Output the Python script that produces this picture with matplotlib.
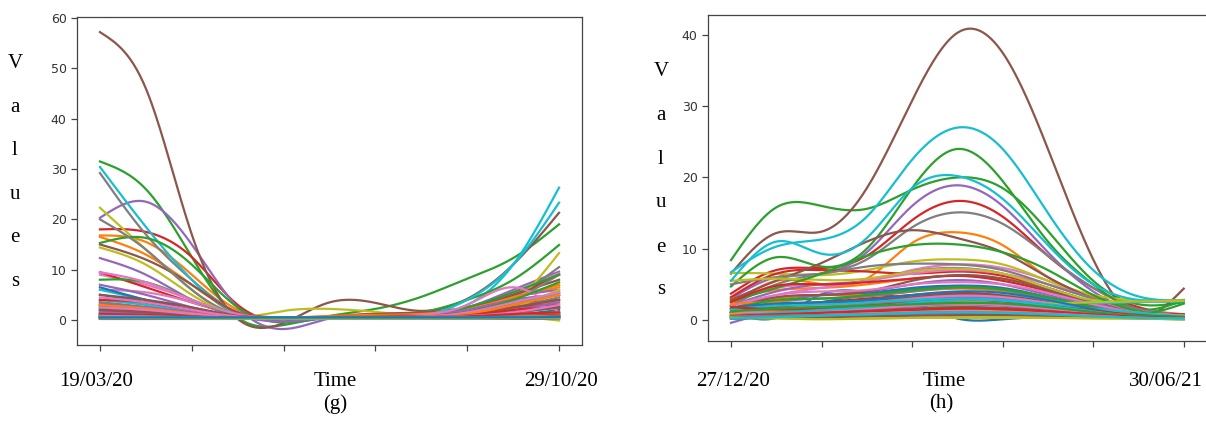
import numpy as np
import matplotlib
matplotlib.use("Agg")
import matplotlib.pyplot as plt

# knot positions on the time axis (tick units, 6 ticks from start to end date)
KNOT_X = [0.0, 0.5, 1.0, 1.5, 2.0, 2.5, 3.0, 3.5, 4.0, 4.5, 5.0]

# panel (g): 19/03/20 - 29/10/20, one row per series, tab10 cycle order
SERIES_G = [
    # cycle 1
    [3.5, 2.5, 1.2, 0.4, 0.3, 0.3, 0.3, 0.4, 0.5, 0.8, 1.5],
    [16.8, 15.5, 9.0, 2.0, 0.2, 0.4, 0.8, 1.0, 2.0, 4.5, 7.0],
    [31.5, 26.0, 12.5, 0.5, -1.0, 0.8, 2.2, 4.6, 8.2, 12.3, 19.0],
    [18.0, 17.5, 12.5, 3.0, -0.3, 0.6, 1.2, 1.4, 2.5, 5.0, 9.0],
    [20.3, 23.5, 15.0, 2.5, -1.8, 0.3, 0.8, 1.0, 2.5, 6.0, 9.6],
    [57.2, 46.0, 17.0, 0.2, -0.6, 3.5, 3.4, 1.8, 4.2, 11.0, 21.3],
    [9.0, 7.0, 4.0, 1.0, 0.3, 0.5, 0.6, 1.0, 2.5, 5.5, 9.3],
    [29.2, 17.0, 8.0, 1.5, 0.3, 0.4, 0.5, 0.6, 1.5, 4.5, 10.5],
    [22.3, 14.0, 6.0, 1.0, 1.8, 2.2, 1.6, 0.8, 1.0, 3.5, 13.3],
    [30.4, 18.5, 8.0, 1.0, 0.2, 0.4, 0.5, 0.8, 3.0, 11.0, 26.3],
    # cycle 2
    [5.0, 3.5, 1.5, 0.5, 0.3, 0.3, 0.4, 0.5, 0.6, 1.0, 2.0],
    [16.5, 13.0, 7.0, 1.5, 0.4, 0.5, 0.8, 1.2, 2.5, 4.5, 6.5],
    [15.3, 16.3, 11.0, 2.5, -0.5, 0.5, 0.8, 1.5, 4.0, 8.0, 14.9],
    [9.5, 6.5, 3.5, 1.2, 0.5, 0.7, 0.9, 0.9, 1.8, 3.5, 5.0],
    [12.3, 9.0, 4.0, 0.8, -0.3, 0.5, 0.7, 0.8, 2.0, 4.5, 6.0],
    [15.0, 12.0, 7.0, 1.5, 0.3, 0.6, 1.2, 1.5, 2.5, 5.0, 8.0],
    [6.0, 5.5, 3.5, 1.0, 0.3, 0.5, 0.5, 0.8, 1.5, 3.0, 5.0],
    [20.0, 14.0, 6.0, 1.0, 0.3, 0.4, 0.5, 0.7, 1.5, 4.0, 9.0],
    [14.4, 11.0, 5.0, 1.0, 0.3, 0.4, 0.5, 0.7, 1.2, 2.5, 4.0],
    [6.0, 4.0, 2.0, 0.5, 0.3, 0.5, 0.6, 0.8, 4.0, 11.0, 23.3],
    # cycle 3
    [6.5, 4.0, 2.0, 0.6, 0.3, 0.3, 0.4, 0.4, 0.5, 0.8, 1.2],
    [4.0, 3.0, 1.5, 0.5, 0.4, 0.8, 1.0, 1.2, 2.2, 4.5, 7.0],
    [8.0, 7.5, 4.0, 1.0, 0.3, 0.5, 0.6, 0.8, 2.5, 5.5, 9.0],
    [3.0, 2.5, 1.5, 0.6, 0.5, 0.6, 0.8, 0.9, 1.5, 3.0, 4.0],
    [7.0, 5.0, 2.5, 0.8, 0.3, 0.4, 0.5, 0.8, 2.0, 4.0, 5.0],
    [5.0, 4.0, 2.5, 0.8, 0.3, 0.5, 0.6, 0.8, 1.5, 3.0, 5.5],
    [9.5, 7.5, 4.0, 1.2, 0.3, 0.5, 0.6, 1.0, 3.0, 6.5, 1.5],
    [3.5, 2.5, 1.5, 0.6, 0.3, 0.4, 0.5, 0.6, 1.0, 2.5, 4.5],
    [2.5, 2.0, 1.0, 0.4, 0.3, 0.4, 0.5, 0.5, 0.8, 2.5, 6.0],
    [4.0, 3.0, 1.5, 0.5, 0.3, 0.4, 0.5, 0.6, 1.2, 3.0, 5.5],
    # cycle 4
    [2.5, 1.8, 1.0, 0.4, 0.3, 0.3, 0.3, 0.4, 0.5, 0.6, 0.9],
    [2.0, 1.6, 1.0, 0.5, 0.4, 0.6, 0.8, 0.8, 1.2, 2.5, 3.5],
    [2.5, 2.0, 1.2, 0.5, 0.3, 0.4, 0.5, 0.6, 1.5, 4.0, 7.5],
    [4.0, 3.5, 2.0, 0.8, 0.4, 0.5, 0.6, 0.7, 1.2, 2.5, 3.0],
    [3.0, 2.5, 1.5, 0.6, 0.3, 0.4, 0.5, 0.6, 1.0, 2.0, 3.5],
    [3.0, 2.2, 1.2, 0.5, 0.3, 0.5, 0.6, 0.7, 1.2, 2.5, 4.0],
    [4.5, 3.5, 2.0, 0.7, 0.3, 0.4, 0.5, 0.7, 1.5, 3.5, 5.5],
    [1.5, 1.2, 0.8, 0.4, 0.3, 0.3, 0.4, 0.5, 0.8, 1.5, 2.5],
    [1.0, 0.8, 0.5, 0.3, 0.3, 0.3, 0.4, 0.4, 0.5, 0.7, 1.0],
    [2.0, 1.6, 1.0, 0.4, 0.3, 0.3, 0.4, 0.5, 0.8, 1.5, 2.5],
    # cycle 5
    [1.5, 1.1, 0.7, 0.4, 0.3, 0.3, 0.3, 0.3, 0.4, 0.5, 0.7],
    [3.0, 2.3, 1.3, 0.5, 0.3, 0.4, 0.5, 0.6, 1.2, 3.0, 5.0],
    [1.2, 1.0, 0.7, 0.4, 0.3, 0.3, 0.4, 0.4, 0.6, 1.0, 1.5],
    [2.0, 1.6, 1.0, 0.5, 0.4, 0.5, 0.6, 0.6, 0.9, 2.0, 2.5],
    [1.5, 1.2, 0.8, 0.4, 0.3, 0.3, 0.4, 0.4, 0.6, 0.9, 1.2],
    [2.0, 1.5, 0.9, 0.4, 0.3, 0.4, 0.4, 0.5, 0.8, 1.5, 2.5],
    [2.5, 2.0, 1.2, 0.5, 0.3, 0.4, 0.4, 0.5, 0.8, 1.5, 3.0],
    [0.8, 0.7, 0.5, 0.3, 0.3, 0.3, 0.3, 0.3, 0.4, 0.6, 0.8],
    [0.3, 0.3, 0.3, 0.3, 0.3, 0.3, 0.3, 0.3, 0.4, 0.6, -0.1],
    [1.0, 0.8, 0.6, 0.4, 0.3, 0.3, 0.3, 0.3, 0.4, 0.6, 0.9],
    # cycle 6
    [0.5, 0.5, 0.4, 0.3, 0.3, 0.3, 0.3, 0.3, 0.3, 0.4, 0.5],
    [1.0, 0.9, 0.6, 0.4, 0.3, 0.3, 0.4, 0.4, 0.6, 1.0, 1.5],
    [0.6, 0.5, 0.4, 0.3, 0.3, 0.3, 0.3, 0.3, 0.4, 0.5, 0.6],
    [1.2, 1.0, 0.7, 0.4, 0.3, 0.4, 0.5, 0.5, 0.7, 1.2, 1.5],
    [0.7, 0.6, 0.5, 0.3, 0.3, 0.3, 0.3, 0.3, 0.4, 0.5, 0.6],
    [0.9, 0.8, 0.6, 0.4, 0.3, 0.3, 0.3, 0.4, 0.5, 0.8, 1.0],
    [0.8, 0.7, 0.5, 0.3, 0.3, 0.3, 0.3, 0.3, 0.4, 0.6, 0.8],
    [0.4, 0.4, 0.4, 0.3, 0.3, 0.3, 0.3, 0.3, 0.3, 0.4, 0.4],
    [0.6, 0.5, 0.4, 0.3, 0.3, 0.3, 0.3, 0.3, 0.4, 0.5, 0.7],
    [0.3, 0.3, 0.3, 0.3, 0.3, 0.3, 0.3, 0.3, 0.3, 0.3, 0.4],
    # cycle 7
    [0.4, 0.4, 0.4, 0.4, 0.4, 0.4, 0.4, 0.4, 0.4, 0.4, 0.4],
    [0.5, 0.5, 0.4, 0.4, 0.4, 0.4, 0.4, 0.4, 0.5, 0.6, 0.8],
    [0.4, 0.4, 0.3, 0.3, 0.3, 0.3, 0.3, 0.3, 0.3, 0.4, 0.5],
    [0.6, 0.5, 0.4, 0.3, 0.3, 0.3, 0.3, 0.3, 0.4, 0.5, 0.7],
    [0.3, 0.3, 0.3, 0.3, 0.3, 0.3, 0.3, 0.3, 0.3, 0.3, 0.4],
    [0.5, 0.4, 0.4, 0.3, 0.3, 0.3, 0.3, 0.3, 0.4, 0.5, 0.6],
    [0.4, 0.4, 0.3, 0.3, 0.3, 0.3, 0.3, 0.3, 0.3, 0.4, 0.5],
    [0.2, 0.2, 0.2, 0.2, 0.2, 0.2, 0.2, 0.2, 0.2, 0.2, 0.3],
    [0.5, 0.4, 0.3, 0.3, 0.3, 0.3, 0.3, 0.3, 0.3, 0.4, 0.5],
    [0.6, 0.6, 0.5, 0.5, 0.5, 0.5, 0.5, 0.5, 0.5, 0.6, 0.6],
    [0.5, 0.5, 0.5, 0.5, 0.5, 0.5, 0.5, 0.5, 0.5, 0.5, 0.6],
]

# panel (h): 27/12/20 - 30/06/21
SERIES_H = [
    # cycle 1
    [1.1, 0.3, 3.6, 3.9, 2.6, 0.2, 0.1, 0.5, 0.8, 0.6, 0.4],
    [2.0, 5.5, 5.0, 5.8, 10.8, 12.3, 10.5, 6.0, 3.3, 1.5, 0.7],
    [8.4, 15.8, 16.0, 15.6, 18.3, 20.0, 18.5, 12.5, 5.5, 2.2, 2.5],
    [3.7, 7.0, 7.3, 9.0, 14.0, 16.7, 14.5, 9.0, 4.5, 1.8, 0.6],
    [3.0, 6.0, 6.5, 9.5, 16.0, 18.9, 16.0, 9.5, 4.0, 1.2, 0.5],
    [6.5, 12.2, 12.4, 18.5, 30.8, 40.3, 37.5, 24.0, 8.5, 0.6, 4.4],
    [2.5, 4.5, 5.0, 5.5, 7.0, 7.8, 7.3, 5.5, 3.0, 1.5, 0.8],
    [2.0, 5.0, 6.5, 8.5, 13.0, 15.1, 13.5, 9.0, 4.5, 1.5, 0.3],
    [6.6, 6.5, 6.3, 7.0, 8.2, 8.5, 7.8, 5.5, 3.5, 2.8, 2.8],
    [6.7, 10.3, 11.3, 14.5, 22.5, 27.0, 24.0, 15.0, 7.0, 3.3, 2.7],
    # cycle 2
    [1.5, 3.0, 3.5, 3.8, 4.5, 4.8, 4.3, 3.0, 1.5, 0.5, 0.3],
    [3.0, 4.2, 4.5, 5.0, 5.8, 6.2, 5.8, 4.5, 2.5, 1.0, 0.5],
    [4.7, 8.8, 7.5, 10.0, 18.5, 24.0, 19.5, 11.0, 5.0, 1.5, 2.8],
    [3.2, 6.5, 7.0, 6.8, 6.5, 6.8, 6.2, 4.5, 2.5, 1.2, 0.8],
    [2.0, 4.0, 5.0, 5.5, 6.8, 7.3, 6.5, 4.5, 2.5, 1.0, 0.3],
    [2.8, 5.5, 8.0, 11.0, 12.6, 11.5, 9.5, 6.0, 3.0, 1.0, 0.5],
    [1.5, 3.5, 4.5, 5.5, 6.5, 7.0, 6.5, 5.0, 3.0, 1.2, 0.6],
    [5.0, 6.0, 6.5, 7.5, 7.9, 7.8, 7.0, 5.0, 3.0, 1.5, 0.5],
    [5.5, 5.8, 5.6, 5.8, 6.8, 7.2, 6.5, 4.5, 2.8, 2.6, 2.7],
    [5.5, 11.0, 9.3, 11.5, 18.5, 20.2, 17.0, 10.5, 5.0, 2.8, 2.6],
    # cycle 3
    [0.8, 1.5, 2.5, 3.5, 4.3, 4.8, 4.5, 3.2, 1.8, 0.8, 0.4],
    [1.2, 3.0, 3.5, 3.5, 4.0, 4.4, 4.0, 3.0, 1.8, 0.8, 0.4],
    [2.6, 4.5, 6.5, 9.0, 10.5, 10.6, 9.5, 7.0, 3.5, 1.2, 0.3],
    [2.5, 4.8, 5.0, 5.3, 5.8, 6.2, 5.5, 4.0, 2.0, 0.8, 0.5],
    [1.0, 2.5, 3.5, 4.0, 5.0, 5.6, 5.0, 3.5, 2.0, 0.8, 0.3],
    [1.5, 3.2, 3.5, 4.0, 5.5, 6.3, 5.8, 4.2, 2.2, 0.8, 0.4],
    [2.0, 3.5, 4.0, 4.2, 5.0, 5.3, 5.0, 3.8, 2.2, 1.0, 0.5],
    [1.0, 2.5, 3.0, 3.3, 4.0, 4.5, 4.2, 3.0, 1.8, 0.8, 0.3],
    [0.5, 1.0, 1.5, 2.0, 2.5, 3.0, 2.8, 2.2, 1.5, 1.0, 0.6],
    [0.8, 1.5, 2.2, 2.8, 3.5, 3.8, 3.5, 2.8, 2.4, 2.5, 2.7],
    # cycle 4
    [0.5, 1.0, 1.5, 2.0, 2.8, 3.3, 3.0, 2.2, 1.2, 0.5, 0.2],
    [2.2, 2.5, 2.2, 2.5, 3.0, 3.3, 3.0, 2.2, 1.3, 0.6, 0.3],
    [1.5, 2.8, 3.0, 3.5, 4.2, 4.6, 4.3, 3.2, 1.8, 0.8, 2.3],
    [1.0, 2.0, 2.5, 3.0, 3.5, 3.8, 3.4, 2.5, 1.5, 0.7, 0.3],
    [-0.4, 1.2, 1.8, 2.2, 2.8, 3.2, 3.0, 2.2, 1.2, 0.5, 0.2],
    [1.0, 1.8, 2.2, 2.6, 3.2, 3.6, 3.3, 2.4, 1.4, 0.6, 0.3],
    [0.5, 1.5, 2.0, 2.4, 3.0, 3.4, 3.2, 2.4, 1.5, 0.7, 0.3],
    [0.8, 1.5, 1.8, 2.2, 2.6, 2.9, 2.7, 2.0, 1.2, 0.5, 0.2],
    [0.2, 0.5, 0.8, 1.2, 1.6, 2.0, 2.2, 2.3, 2.5, 2.6, 2.7],
    [1.5, 2.0, 2.2, 2.5, 2.8, 3.0, 2.8, 2.2, 1.6, 1.0, 0.5],
    # cycle 5
    [1.8, 2.3, 2.5, 2.8, 3.5, 4.0, 3.8, 2.8, 1.5, 0.5, 0.3],
    [0.8, 1.2, 1.5, 1.8, 2.2, 2.5, 2.3, 1.8, 1.0, 0.5, 0.2],
    [0.6, 1.0, 1.3, 1.6, 2.0, 2.3, 2.2, 1.6, 1.0, 0.5, 0.3],
    [1.8, 1.5, 1.6, 2.0, 2.4, 2.8, 2.6, 2.0, 1.3, 0.7, 0.4],
    [0.6, 0.9, 1.2, 1.5, 1.9, 2.2, 2.0, 1.5, 0.9, 0.4, 0.2],
    [0.4, 0.8, 1.0, 1.3, 1.6, 1.8, 1.7, 1.3, 0.8, 0.4, 0.2],
    [1.2, 1.0, 1.3, 1.6, 2.0, 2.3, 2.1, 1.6, 1.0, 0.5, 0.3],
    [0.3, 0.4, 0.6, 0.8, 1.0, 1.2, 1.1, 0.9, 0.6, 0.3, 0.2],
    [0.8, 0.4, 0.2, 0.2, 0.3, 0.4, 0.4, 0.4, 0.3, 0.2, 0.1],
    [0.5, 1.0, 1.4, 1.8, 2.4, 2.8, 2.7, 2.0, 1.2, 0.5, 0.3],
    # cycle 6
    [0.3, 0.5, 0.8, 1.1, 1.4, 1.6, 1.5, 1.1, 0.7, 0.3, 0.2],
    [0.4, 0.7, 0.9, 1.1, 1.3, 1.5, 1.4, 1.1, 0.7, 0.3, 0.2],
    [1.2, 1.6, 1.8, 2.0, 2.2, 2.4, 2.3, 1.8, 1.1, 0.6, 0.4],
    [0.6, 0.8, 1.0, 1.2, 1.4, 1.6, 1.5, 1.2, 0.8, 0.4, 0.3],
    [0.2, 0.3, 0.5, 0.6, 0.8, 0.9, 0.9, 0.7, 0.5, 0.3, 0.2],
    [0.2, 0.3, 0.4, 0.5, 0.6, 0.7, 0.7, 0.6, 0.4, 0.2, 0.1],
    [0.3, 0.5, 0.7, 0.9, 1.1, 1.2, 1.1, 0.9, 0.6, 0.3, 0.2],
    [0.5, 0.6, 0.7, 0.8, 1.0, 1.1, 1.0, 0.8, 0.5, 0.3, 0.2],
    [0.3, 0.2, 0.1, 0.2, 0.3, 0.3, 0.3, 0.3, 0.2, 0.2, 0.1],
    [0.2, 0.4, 0.6, 0.8, 1.0, 1.1, 1.0, 0.8, 0.5, 0.3, 0.2],
]

DATES_G = ["19/03/20", "29/10/20"]
DATES_H = ["27/12/20", "30/06/21"]

W, H = 1206, 423
SERIF = ["Liberation Serif", "DejaVu Serif"]


def spline(xk, yk, num=300):
    """Natural cubic spline through the knots, for a smooth line."""
    xk = np.asarray(xk, float)
    yk = np.asarray(yk, float)
    n = len(xk)
    h = np.diff(xk)
    A = np.zeros((n, n))
    b = np.zeros(n)
    A[0, 0] = A[-1, -1] = 1.0
    for i in range(1, n - 1):
        A[i, i - 1] = h[i - 1]
        A[i, i] = 2 * (h[i - 1] + h[i])
        A[i, i + 1] = h[i]
        b[i] = 6 * ((yk[i + 1] - yk[i]) / h[i] - (yk[i] - yk[i - 1]) / h[i - 1])
    m = np.linalg.solve(A, b)
    xs = np.linspace(xk[0], xk[-1], num)
    j = np.clip(np.searchsorted(xk, xs) - 1, 0, n - 2)
    x0, x1 = xk[j], xk[j + 1]
    hh = x1 - x0
    a = (x1 - xs) / hh
    c = (xs - x0) / hh
    ys = a * yk[j] + c * yk[j + 1] + ((a ** 3 - a) * m[j] + (c ** 3 - c) * m[j + 1]) * hh ** 2 / 6
    return xs, ys


def px(x, y):
    return x / W, 1 - y / H


def draw_panel(rect, series, ylim, yticks, xlim):
    ax = fig.add_axes(rect)
    for vals in series:
        xs, ys = spline(KNOT_X, vals)
        ax.plot(xs, ys, lw=1.6)
    ax.set_xlim(*xlim)
    ax.set_ylim(*ylim)
    ax.set_xticks([0, 1, 2, 3, 4, 5])
    ax.set_xticklabels([])
    ax.set_yticks(yticks)
    ax.tick_params(direction="out", length=4, width=0.9, colors="#444444",
                   labelsize=9, labelcolor="#333333")
    for sp in ax.spines.values():
        sp.set_color("#444444")
        sp.set_linewidth(0.9)
    return ax


fig = plt.figure(figsize=(W / 100, H / 100), dpi=100)

# (g)
draw_panel([77 / W, 1 - 345 / H, 505 / W, 328 / H], SERIES_G,
           (-4.97, 60.2), [0, 10, 20, 30, 40, 50, 60], (-0.25, 5.25))
# (h) runs off the right edge of the figure
draw_panel([708 / W, 1 - 341 / H, 502 / W, 326 / H], SERIES_H,
           (-2.95, 42.8), [0, 10, 20, 30, 40], (-0.254, 5.29))

for (x0, xm, x1, xc), dates, cap in [((96, 335, 561, 335), DATES_G, "(g)"),
                                      ((733, 944, 1166, 941), DATES_H, "(h)")]:
    fig.text(*px(x0, 381), dates[0], family=SERIF, fontsize=15, ha="center", va="center")
    fig.text(*px(xm, 381), "Time", family=SERIF, fontsize=15, ha="center", va="center")
    fig.text(*px(x1, 381), dates[1], family=SERIF, fontsize=15, ha="center", va="center")
    fig.text(*px(xc, 404), cap, family=SERIF, fontsize=15, ha="center", va="center")

# vertical "Values" label, one letter per line
for lx, ys in [(15, [63, 107, 150, 194, 237, 281]), (661, [71, 115, 159, 202, 247, 289])]:
    for ch, y in zip("Values", ys):
        fig.text(*px(lx, y), ch, family=SERIF, fontsize=15, ha="center", va="center")

fig.savefig("out.png", dpi=100)
